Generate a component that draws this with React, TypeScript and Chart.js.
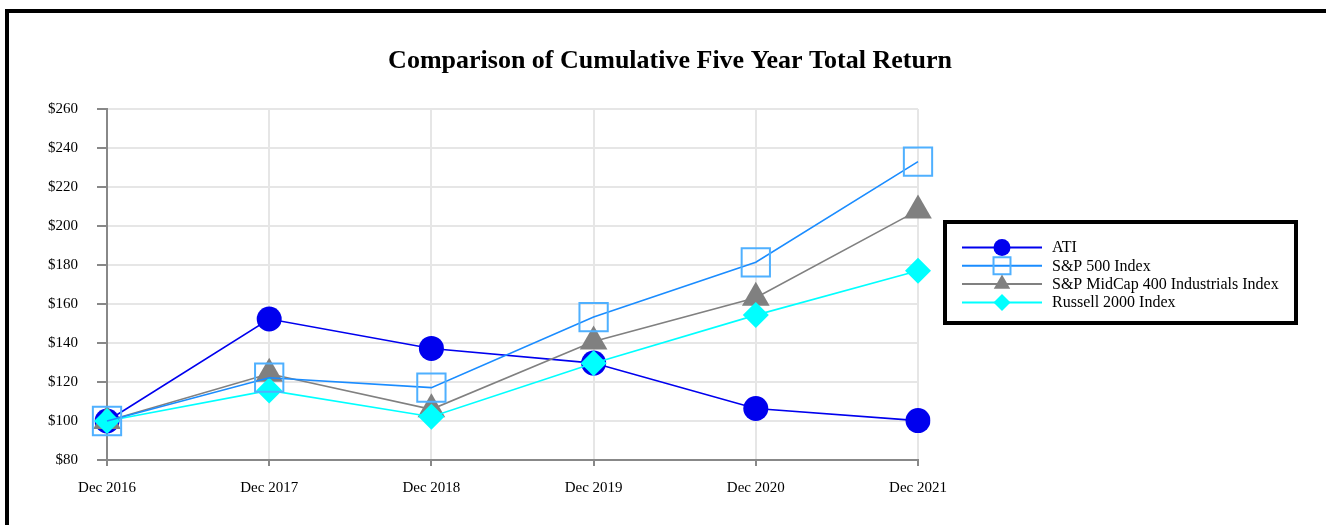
import React, { useEffect, useRef } from "react";
import { Chart, registerables } from "chart.js";

Chart.register(...registerables);

const TITLE = "Comparison of Cumulative Five Year Total Return";
const categories = ["Dec 2016", "Dec 2017", "Dec 2018", "Dec 2019", "Dec 2020", "Dec 2021"];
const yTicks = { min: 80, max: 260, step: 20 };

const atiValues = [100, 152.3, 137.2, 129.7, 106.4, 100.2];
const sp500Values = [100, 122.2, 117.1, 153.3, 181.4, 233.0];
const midcapValues = [100, 124.2, 106.0, 140.8, 163.2, 208.0];
const russellValues = [100, 115.7, 102.2, 129.6, 154.3, 177.0];

const seriesNames = ["ATI", "S&P 500 Index", "S&P MidCap 400 Industrials Index", "Russell 2000 Index"];

const FONT = "'Liberation Serif', 'Times New Roman', serif";

function drawMarker(ctx: any, style: string, x: number, y: number, r: number, fill: string, stroke: string, bw: number) {
  ctx.save();
  ctx.beginPath();
  if (style === "circle") {
    ctx.arc(x, y, r, 0, Math.PI * 2);
  } else if (style === "rect") {
    const s = r * Math.SQRT1_2;
    ctx.rect(x - s, y - s, 2 * s, 2 * s);
  } else if (style === "triangle") {
    ctx.moveTo(x, y - r);
    ctx.lineTo(x + r * Math.sin((2 * Math.PI) / 3), y + r / 2);
    ctx.lineTo(x - r * Math.sin((2 * Math.PI) / 3), y + r / 2);
    ctx.closePath();
  } else if (style === "rectRot") {
    ctx.moveTo(x - r, y);
    ctx.lineTo(x, y - r);
    ctx.lineTo(x + r, y);
    ctx.lineTo(x, y + r);
    ctx.closePath();
  }
  if (fill && fill !== "transparent") {
    ctx.fillStyle = fill;
    ctx.fill();
  }
  if (bw > 0) {
    ctx.lineWidth = bw;
    ctx.strokeStyle = stroke;
    ctx.stroke();
  }
  ctx.restore();
}

const legendPlugin = {
  id: "customLegend",
  afterDraw(chart: any) {
    const { ctx, chartArea } = chart;
    ctx.save();
    // title
    ctx.fillStyle = "#000";
    ctx.font = `bold 26px ${FONT}`;
    ctx.textAlign = "center";
    ctx.textBaseline = "middle";
    ctx.fillText(TITLE, 670, 61);

    // legend box
    const bx = chartArea.right + 27;
    const by = 222;
    const bw = 351;
    const bh = 101;
    ctx.lineWidth = 4;
    ctx.strokeStyle = "#000";
    ctx.strokeRect(bx, by, bw, bh);

    const legendRadius = [8.5, 12, 9.5, 8.5];
    chart.data.datasets.forEach((ds: any, i: number) => {
      const yy = 247.5 + i * 18.3;
      const x0 = bx + 17;
      const x1 = bx + 97;
      const xm = (x0 + x1) / 2;
      ctx.strokeStyle = ds.borderColor;
      ctx.lineWidth = 2;
      ctx.beginPath();
      ctx.moveTo(x0, yy);
      ctx.lineTo(x1, yy);
      ctx.stroke();
      drawMarker(ctx, ds.pointStyle, xm, yy, legendRadius[i], ds.pointBackgroundColor, ds.pointBorderColor, ds.pointBorderWidth);
      ctx.fillStyle = "#000";
      ctx.font = `16px ${FONT}`;
      ctx.textAlign = "left";
      ctx.textBaseline = "middle";
      ctx.fillText(ds.label, bx + 107, yy + 0.5);
    });
    ctx.restore();
  },
};

export default function App() {
  const ref = useRef<HTMLCanvasElement | null>(null);

  useEffect(() => {
    if (!ref.current) return;
    const chart = new Chart(ref.current, {
      type: "line",
      data: {
        labels: categories,
        datasets: [
          {
            label: seriesNames[0],
            data: atiValues,
            borderColor: "#0000ee",
            borderWidth: 1.6,
            pointStyle: "circle",
            pointRadius: 12.5,
            pointBackgroundColor: "#0000ee",
            pointBorderColor: "#0000ee",
            pointBorderWidth: 0,
            order: 4,
          },
          {
            label: seriesNames[1],
            data: sp500Values,
            borderColor: "#1a8cff",
            borderWidth: 1.6,
            pointStyle: "rect",
            pointRadius: 20,
            pointBackgroundColor: "transparent",
            pointBorderColor: "#4fb0ff",
            pointBorderWidth: 2,
            order: 1,
          },
          {
            label: seriesNames[2],
            data: midcapValues,
            borderColor: "#808080",
            borderWidth: 1.6,
            pointStyle: "triangle",
            pointRadius: 16,
            pointBackgroundColor: "#808080",
            pointBorderColor: "#808080",
            pointBorderWidth: 0,
            order: 3,
          },
          {
            label: seriesNames[3],
            data: russellValues,
            borderColor: "#00ffff",
            borderWidth: 1.6,
            pointStyle: "rectRot",
            pointRadius: 13,
            pointBackgroundColor: "#00ffff",
            pointBorderColor: "#00ffff",
            pointBorderWidth: 0,
            order: 2,
          },
        ],
      },
      options: {
        responsive: false,
        animation: false,
        layout: { padding: { left: 0, right: 408, top: 109, bottom: 25 } },
        plugins: {
          legend: { display: false },
          title: { display: false },
          tooltip: { enabled: false },
        },
        elements: { line: { tension: 0 } },
        scales: {
          x: {
            type: "category",
            offset: false,
            grid: {
              color: "#e6e6e6",
              lineWidth: 2,
              tickColor: "#888888",
              tickLength: 6,
              tickWidth: 2,
            },
            border: { color: "#888888", width: 2 },
            ticks: {
              color: "#000",
              font: { family: FONT, size: 15 },
              padding: 13,
              maxRotation: 0,
            },
            afterFit(scale: any) {
              scale.height = 40;
            },
          },
          y: {
            min: yTicks.min,
            max: yTicks.max,
            grid: {
              color: "#e6e6e6",
              lineWidth: 2,
              tickColor: "#888888",
              tickLength: 10,
              tickWidth: 2,
            },
            border: { color: "#888888", width: 2 },
            ticks: {
              stepSize: yTicks.step,
              color: "#000",
              font: { family: FONT, size: 15 },
              padding: 19,
              callback: (v: any) => "$" + v,
            },
            afterFit(scale: any) {
              scale.width = 107;
            },
          },
        },
      },
      plugins: [legendPlugin],
    });
    return () => chart.destroy();
  }, []);

  return (
    <div>
      <div
        style={{
          position: "fixed",
          left: 5,
          top: 9,
          width: 1400,
          height: 600,
          border: "4px solid #000",
          boxSizing: "border-box",
        }}
      />
      <canvas
        ref={ref}
        width={1326}
        height={525}
        style={{ position: "fixed", left: 0, top: 0, width: 1326, height: 525 }}
      />
    </div>
  );
}
